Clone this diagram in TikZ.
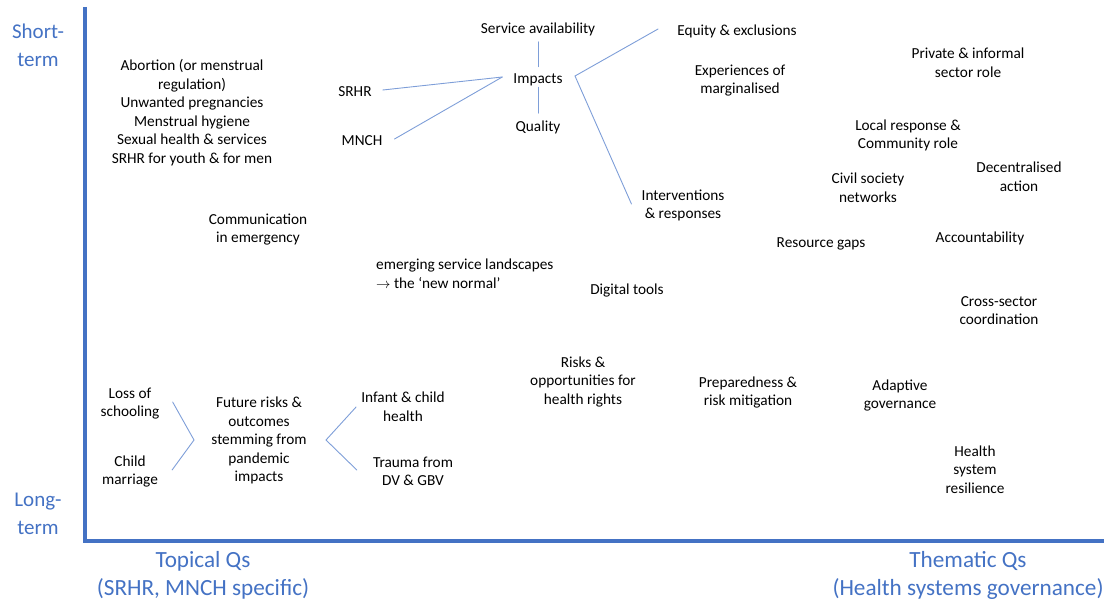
\documentclass[tikz,border=0pt]{standalone}
\usepackage{fontspec}
\setmainfont{Carlito}
\usetikzlibrary{positioning}

\definecolor{QmapBlue}{HTML}{4472C4}
\definecolor{QmapLink}{HTML}{7E9ED8}
\def\QmapAxisLW{4pt}
\def\QmapLinkLW{0.9pt}
\def\QmapItemFont{\fontsize{15.3}{18.5}\selectfont}
\def\QmapAxisFont{\fontsize{21}{28}\selectfont}
\def\QmapAxisWideFont{\fontsize{23.2}{28}\selectfont}
\newcommand{\QmapStyles}{%
  \tikzset{
    qmitem/.style={align=center, inner sep=0pt, font=\QmapItemFont,
      yshift=-1.5pt},
    qmitemLeft/.style={qmitem, align=left, anchor=west},
    qmaxislabel/.style={align=center, inner sep=0pt, text=QmapBlue,
      font=\QmapAxisFont, yshift=-1.5pt},
    qmaxislabelWide/.style={qmaxislabel, font=\QmapAxisWideFont},
    qmaxis/.style={draw=QmapBlue, line width=\QmapAxisLW},
    qmlink/.style={draw=QmapLink, line width=\QmapLinkLW,
      line cap=round, line join=miter},
  }%
}

\begin{document}
\begin{tikzpicture}[x=1pt, y=-1pt]
    \QmapStyles
    \useasboundingbox (0,0) rectangle (1119,602);

    % axes
    \draw[qmaxis] (85,7) -- (85,541) -- (1104,541);
    \node[qmaxislabel] (shortTerm) at (38,44) {Short-\\term};
    \node[qmaxislabel] (longTerm) at (38,512) {Long-\\term};
    \node[qmaxislabelWide] (topicalQs) at (203,574) {Topical Qs\\(SRHR, MNCH specific)};
    \node[qmaxislabelWide] (thematicQs) at (968,574) {Thematic Qs\\(Health systems governance)};

    % topical items
    \node[qmitem] (srhrTopics) at (192,111) {Abortion (or menstrual\\regulation)\\Unwanted pregnancies\\Menstrual hygiene\\Sexual health \& services\\SRHR for youth \& for men};
    \node[qmitem] (srhr) at (355,90) {SRHR};
    \node[qmitem] (mnch) at (362,139) {MNCH};
    \node[qmitem] (avail) at (538,28) {Service availability};
    \node[qmitem] (impacts) at (538,78) {Impacts};
    \node[qmitem] (quality) at (538,126) {Quality};
    \node[qmitem] (equity) at (737,30) {Equity \& exclusions};
    \node[qmitem] (marginal) at (740,79) {Experiences of\\marginalised};
    \node[qmitem] (interv) at (683,204) {Interventions\\\& responses};
    \node[qmitem] (comms) at (258,228) {Communication\\in emergency};
    \node[qmitemLeft] (landscape) at (376,272) {emerging service landscapes\\$\rightarrow$ the ‘new normal’};
    \node[qmitem] (digital) at (627,289) {Digital tools};
    \node[qmitem] (risks) at (583,380) {Risks \&\\opportunities for\\health rights};

    % long-term topical
    \node[qmitem] (loss) at (130,402) {Loss of\\schooling};
    \node[qmitem] (child) at (130,470) {Child\\marriage};
    \node[qmitem] (future) at (259,439) {Future risks \&\\outcomes\\stemming from\\pandemic\\impacts};
    \node[qmitem] (infant) at (403,405) {Infant \& child\\health};
    \node[qmitem] (trauma) at (413,470) {Trauma from\\DV \& GBV};

    % thematic items
    \node[qmitem] (private) at (968,61) {Private \& informal\\sector role};
    \node[qmitem] (local) at (908,134) {Local response \&\\Community role};
    \node[qmitem] (civil) at (868,186) {Civil society\\networks};
    \node[qmitem] (decentral) at (1019,175) {Decentralised\\action};
    \node[qmitem] (resource) at (821,242) {Resource gaps};
    \node[qmitem] (account) at (980,237) {Accountability};
    \node[qmitem] (crossSector) at (999,309) {Cross-sector\\coordination};
    \node[qmitem] (prepared) at (748,391) {Preparedness \&\\risk mitigation};
    \node[qmitem] (adaptive) at (900,394) {Adaptive\\governance};
    \node[qmitem] (resilience) at (975,468) {Health\\system\\resilience};

    % links
    \coordinate (impactsFork) at (575,76);
    \coordinate (futureIn) at (194,440);
    \coordinate (futureOut) at (326,440);
    \draw[qmlink] ([yshift=-5.5pt]avail.south) -- ([yshift=6.5pt]impacts.north);
    \draw[qmlink] ([yshift=-1.5pt]impacts.south) -- ([yshift=7.5pt]quality.north);
    \draw[qmlink] ([xshift=11pt,yshift=1.5pt]srhr.east) -- ([xshift=-11pt,yshift=2.5pt]impacts.west);
    \draw[qmlink] ([xshift=12pt,yshift=1.5pt]mnch.east) -- ([xshift=-11pt,yshift=2.5pt]impacts.west);
    \draw[qmlink] ([xshift=-19pt,yshift=2.5pt]equity.west) -- (impactsFork) -- ([xshift=-10pt,yshift=1.5pt]interv.west);
    \draw[qmlink] ([xshift=13pt,yshift=1.5pt]loss.east) -- (futureIn) -- ([xshift=14pt,yshift=1.5pt]child.east);
    \draw[qmlink] ([xshift=-5pt,yshift=-0.5pt]infant.west) -- (futureOut) -- ([xshift=-16pt,yshift=1.5pt]trauma.west);
\end{tikzpicture}
\end{document}
